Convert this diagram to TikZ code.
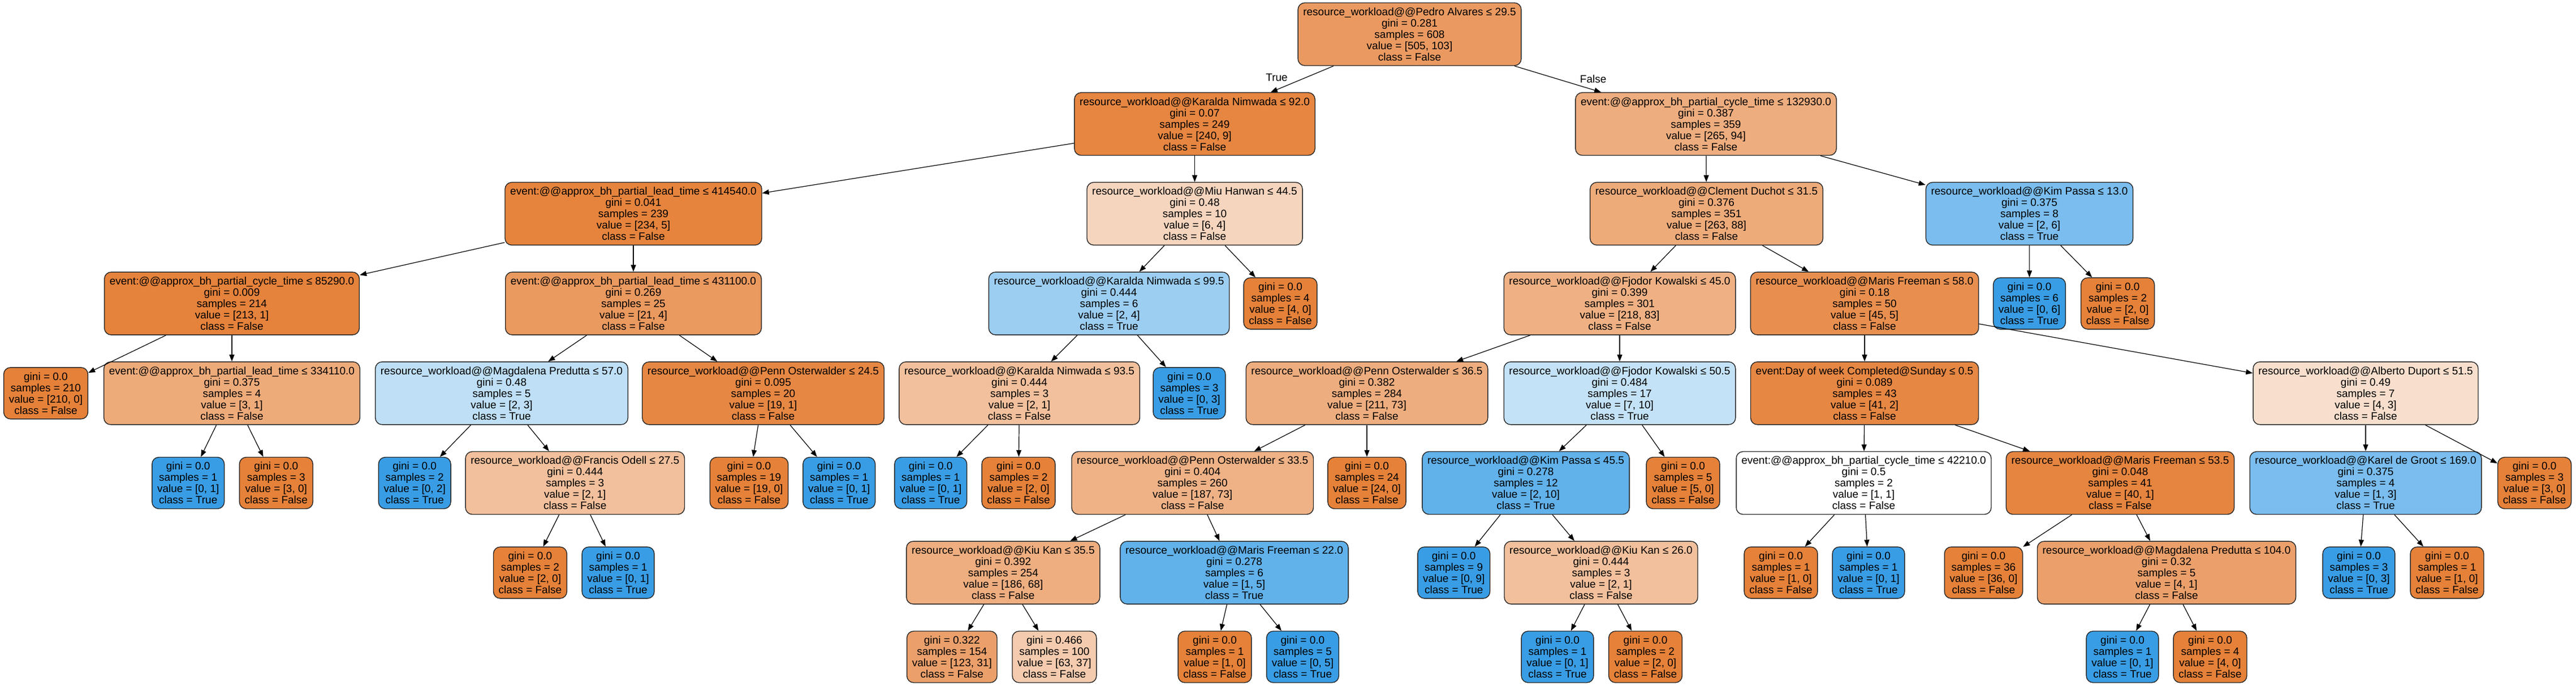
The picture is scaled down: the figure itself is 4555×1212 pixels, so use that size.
\documentclass[tikz,border=0pt]{standalone}
\usepackage{fontspec}
\setmainfont{Liberation Sans}
\usepackage{tikz}
\usetikzlibrary{arrows.meta}
\definecolor{cfalse}{HTML}{E58139}
\definecolor{ctrue}{HTML}{399DE5}
\tikzset{
    %Define standard arrow tip
    >={Triangle[length=6pt,width=4.5pt]},
    %Define style for boxes
    split/.style={
           rectangle,
           rounded corners=6pt,
           draw=black!85, line width=0.7pt,
           minimum height=55.5pt,
           inner xsep=4.6pt,
           inner ysep=2pt,
           align=center,
           font=\fontsize{9.5}{10}\selectfont},
    leaf/.style={
           split,
           minimum height=45.5pt},
    % Define arrow style
    pil/.style={
           ->,
           line width=0.6pt,
           draw=black}
}
\begin{document}
\begin{tikzpicture}[x=0.5pt,y=-0.5pt]
\useasboundingbox (0,0) rectangle (4555,1212);
 %level 0 and 1
\node[split, fill=cfalse!80](0) at (2492.5,60.5){resource\_workload@@Pedro Alvares ≤ 29.5\\gini = 0.281\\samples = 608\\value = [505, 103]\\class = False};
\node[split, fill=cfalse!96](1) at (2112.5,219.2){resource\_workload@@Karalda Nimwada ≤ 92.0\\gini = 0.07\\samples = 249\\value = [240, 9]\\class = False};
\node[split, fill=cfalse!65](2) at (3016.5,219.2){event:@@approx\_bh\_partial\_cycle\_time ≤ 132930.0\\gini = 0.387\\samples = 359\\value = [265, 94]\\class = False};
 %level 2
\node[split, fill=cfalse!98](3) at (1120,377.9){event:@@approx\_bh\_partial\_lead\_time ≤ 414540.0\\gini = 0.041\\samples = 239\\value = [234, 5]\\class = False};
\node[split, fill=cfalse!33](4) at (2112.5,377.9){resource\_workload@@Miu Hanwan ≤ 44.5\\gini = 0.48\\samples = 10\\value = [6, 4]\\class = False};
\node[split, fill=cfalse!67](5) at (3017.5,377.9){resource\_workload@@Clement Duchot ≤ 31.5\\gini = 0.376\\samples = 351\\value = [263, 88]\\class = False};
\node[split, fill=ctrue!67](6) at (3588.5,377.9){resource\_workload@@Kim Passa ≤ 13.0\\gini = 0.375\\samples = 8\\value = [2, 6]\\class = True};
 %level 3
\node[split, fill=cfalse!99](7) at (410,536.6){event:@@approx\_bh\_partial\_cycle\_time ≤ 85290.0\\gini = 0.009\\samples = 214\\value = [213, 1]\\class = False};
\node[split, fill=cfalse!81](8) at (1120,536.6){event:@@approx\_bh\_partial\_lead\_time ≤ 431100.0\\gini = 0.269\\samples = 25\\value = [21, 4]\\class = False};
\node[split, fill=ctrue!50](9) at (1961,536.6){resource\_workload@@Karalda Nimwada ≤ 99.5\\gini = 0.444\\samples = 6\\value = [2, 4]\\class = True};
\node[leaf, fill=cfalse](10) at (2264,536.6){gini = 0.0\\samples = 4\\value = [4, 0]\\class = False};
\node[split, fill=cfalse!62](11) at (2864,536.6){resource\_workload@@Fjodor Kowalski ≤ 45.0\\gini = 0.399\\samples = 301\\value = [218, 83]\\class = False};
\node[split, fill=cfalse!89](12) at (3297,536.6){resource\_workload@@Maris Freeman ≤ 58.0\\gini = 0.18\\samples = 50\\value = [45, 5]\\class = False};
\node[leaf, fill=ctrue](13) at (3588.5,536.6){gini = 0.0\\samples = 6\\value = [0, 6]\\class = True};
\node[leaf, fill=cfalse](14) at (3744.6,536.6){gini = 0.0\\samples = 2\\value = [2, 0]\\class = False};
 %level 4
\node[leaf, fill=cfalse](15) at (81,695.3){gini = 0.0\\samples = 210\\value = [210, 0]\\class = False};
\node[split, fill=cfalse!67](16) at (410,695.3){event:@@approx\_bh\_partial\_lead\_time ≤ 334110.0\\gini = 0.375\\samples = 4\\value = [3, 1]\\class = False};
\node[split, fill=ctrue!33](17) at (887,695.3){resource\_workload@@Magdalena Predutta ≤ 57.0\\gini = 0.48\\samples = 5\\value = [2, 3]\\class = True};
\node[split, fill=cfalse!95](18) at (1349.5,695.3){resource\_workload@@Penn Osterwalder ≤ 24.5\\gini = 0.095\\samples = 20\\value = [19, 1]\\class = False};
\node[split, fill=cfalse!50](19) at (1802.6,695.3){resource\_workload@@Karalda Nimwada ≤ 93.5\\gini = 0.444\\samples = 3\\value = [2, 1]\\class = False};
\node[leaf, fill=ctrue](20) at (2103,695.3){gini = 0.0\\samples = 3\\value = [0, 3]\\class = True};
\node[split, fill=cfalse!65](21) at (2417,695.3){resource\_workload@@Penn Osterwalder ≤ 36.5\\gini = 0.382\\samples = 284\\value = [211, 73]\\class = False};
\node[split, fill=ctrue!30](22) at (2864,695.3){resource\_workload@@Fjodor Kowalski ≤ 50.5\\gini = 0.484\\samples = 17\\value = [7, 10]\\class = True};
\node[split, fill=cfalse!95](23) at (3297,695.3){event:Day of week Completed@Sunday ≤ 0.5\\gini = 0.089\\samples = 43\\value = [41, 2]\\class = False};
\node[split, fill=cfalse!25](24) at (4183,695.3){resource\_workload@@Alberto Duport ≤ 51.5\\gini = 0.49\\samples = 7\\value = [4, 3]\\class = False};
 %level 5
\node[leaf, fill=ctrue](25) at (332.7,854){gini = 0.0\\samples = 1\\value = [0, 1]\\class = True};
\node[leaf, fill=cfalse](26) at (488.3,854){gini = 0.0\\samples = 3\\value = [3, 0]\\class = False};
\node[leaf, fill=ctrue](27) at (733.2,854){gini = 0.0\\samples = 2\\value = [0, 2]\\class = True};
\node[split, fill=cfalse!50](28) at (1016.8,854){resource\_workload@@Francis Odell ≤ 27.5\\gini = 0.444\\samples = 3\\value = [2, 1]\\class = False};
\node[leaf, fill=cfalse](29) at (1324.5,854){gini = 0.0\\samples = 19\\value = [19, 0]\\class = False};
\node[leaf, fill=ctrue](30) at (1483.7,854){gini = 0.0\\samples = 1\\value = [0, 1]\\class = True};
\node[leaf, fill=ctrue](31) at (1645.7,854){gini = 0.0\\samples = 1\\value = [0, 1]\\class = True};
\node[leaf, fill=cfalse](32) at (1801,854){gini = 0.0\\samples = 2\\value = [2, 0]\\class = False};
\node[split, fill=cfalse!61](33) at (2108.7,854){resource\_workload@@Penn Osterwalder ≤ 33.5\\gini = 0.404\\samples = 260\\value = [187, 73]\\class = False};
\node[leaf, fill=cfalse](34) at (2417,854){gini = 0.0\\samples = 24\\value = [24, 0]\\class = False};
\node[split, fill=ctrue!80](35) at (2698,854){resource\_workload@@Kim Passa ≤ 45.5\\gini = 0.278\\samples = 12\\value = [2, 10]\\class = True};
\node[leaf, fill=cfalse](36) at (2976,854){gini = 0.0\\samples = 5\\value = [5, 0]\\class = False};
\node[split, fill=white](37) at (3295.5,854){event:@@approx\_bh\_partial\_cycle\_time ≤ 42210.0\\gini = 0.5\\samples = 2\\value = [1, 1]\\class = False};
\node[split, fill=cfalse!97](38) at (3749,854){resource\_workload@@Maris Freeman ≤ 53.5\\gini = 0.048\\samples = 41\\value = [40, 1]\\class = False};
\node[split, fill=ctrue!67](39) at (4183,854){resource\_workload@@Karel de Groot ≤ 169.0\\gini = 0.375\\samples = 4\\value = [1, 3]\\class = True};
\node[leaf, fill=cfalse](40) at (4481.6,854){gini = 0.0\\samples = 3\\value = [3, 0]\\class = False};
 %level 6
\node[leaf, fill=cfalse](41) at (937.4,1012.6){gini = 0.0\\samples = 2\\value = [2, 0]\\class = False};
\node[leaf, fill=ctrue](42) at (1093,1012.6){gini = 0.0\\samples = 1\\value = [0, 1]\\class = True};
\node[split, fill=cfalse!64](43) at (1773.8,1012.6){resource\_workload@@Kiu Kan ≤ 35.5\\gini = 0.392\\samples = 254\\value = [186, 68]\\class = False};
\node[split, fill=ctrue!80](44) at (2182.5,1012.6){resource\_workload@@Maris Freeman ≤ 22.0\\gini = 0.278\\samples = 6\\value = [1, 5]\\class = True};
\node[leaf, fill=ctrue](45) at (2570.7,1012.6){gini = 0.0\\samples = 9\\value = [0, 9]\\class = True};
\node[split, fill=cfalse!50](46) at (2831,1012.6){resource\_workload@@Kiu Kan ≤ 26.0\\gini = 0.444\\samples = 3\\value = [2, 1]\\class = False};
\node[leaf, fill=cfalse](47) at (3149,1012.6){gini = 0.0\\samples = 1\\value = [1, 0]\\class = False};
\node[leaf, fill=ctrue](48) at (3304,1012.6){gini = 0.0\\samples = 1\\value = [0, 1]\\class = True};
\node[leaf, fill=cfalse](49) at (3507.4,1012.6){gini = 0.0\\samples = 36\\value = [36, 0]\\class = False};
\node[split, fill=cfalse!75](50) at (3831,1012.6){resource\_workload@@Magdalena Predutta ≤ 104.0\\gini = 0.32\\samples = 5\\value = [4, 1]\\class = False};
\node[leaf, fill=ctrue](51) at (4171,1012.6){gini = 0.0\\samples = 3\\value = [0, 3]\\class = True};
\node[leaf, fill=cfalse](52) at (4327,1012.6){gini = 0.0\\samples = 1\\value = [1, 0]\\class = False};
 %level 7
\node[leaf, fill=cfalse!75](53) at (1683.3,1161.5){gini = 0.322\\samples = 154\\value = [123, 31]\\class = False};
\node[leaf, fill=cfalse!41](54) at (1864.4,1161.5){gini = 0.466\\samples = 100\\value = [63, 37]\\class = False};
\node[leaf, fill=cfalse](55) at (2148,1161.5){gini = 0.0\\samples = 1\\value = [1, 0]\\class = False};
\node[leaf, fill=ctrue](56) at (2303.4,1161.5){gini = 0.0\\samples = 5\\value = [0, 5]\\class = True};
\node[leaf, fill=ctrue](57) at (2754,1161.5){gini = 0.0\\samples = 1\\value = [0, 1]\\class = True};
\node[leaf, fill=cfalse](58) at (2909.5,1161.5){gini = 0.0\\samples = 2\\value = [2, 0]\\class = False};
\node[leaf, fill=ctrue](59) at (3753,1161.5){gini = 0.0\\samples = 1\\value = [0, 1]\\class = True};
\node[leaf, fill=cfalse](60) at (3908,1161.5){gini = 0.0\\samples = 4\\value = [4, 0]\\class = False};

 \path[pil, every node/.style={font=\fontsize{9.5}{10}\selectfont}]
    (0) edge node[pos=0.45, left=12pt] {True} (1)
    (0) edge node[pos=0.5, right=16pt] {False} (2)
    (1) edge (3) (1) edge (4)
    (2) edge (5) (2) edge (6)
    (3) edge (7) (3) edge (8)
    (4) edge (9) (4) edge (10)
    (5) edge (11) (5) edge (12)
    (6) edge (13) (6) edge (14)
    (7) edge (15) (7) edge (16)
    (8) edge (17) (8) edge (18)
    (9) edge (19) (9) edge (20)
    (11) edge (21) (11) edge (22)
    (12) edge (23) (12) edge (24)
    (16) edge (25) (16) edge (26)
    (17) edge (27) (17) edge (28)
    (18) edge (29) (18) edge (30)
    (19) edge (31) (19) edge (32)
    (21) edge (33) (21) edge (34)
    (22) edge (35) (22) edge (36)
    (23) edge (37) (23) edge (38)
    (24) edge (39) (24) edge (40)
    (28) edge (41) (28) edge (42)
    (33) edge (43) (33) edge (44)
    (35) edge (45) (35) edge (46)
    (37) edge (47) (37) edge (48)
    (38) edge (49) (38) edge (50)
    (39) edge (51) (39) edge (52)
    (43) edge (53) (43) edge (54)
    (44) edge (55) (44) edge (56)
    (46) edge (57) (46) edge (58)
    (50) edge (59) (50) edge (60);
\end{tikzpicture}
\end{document}
